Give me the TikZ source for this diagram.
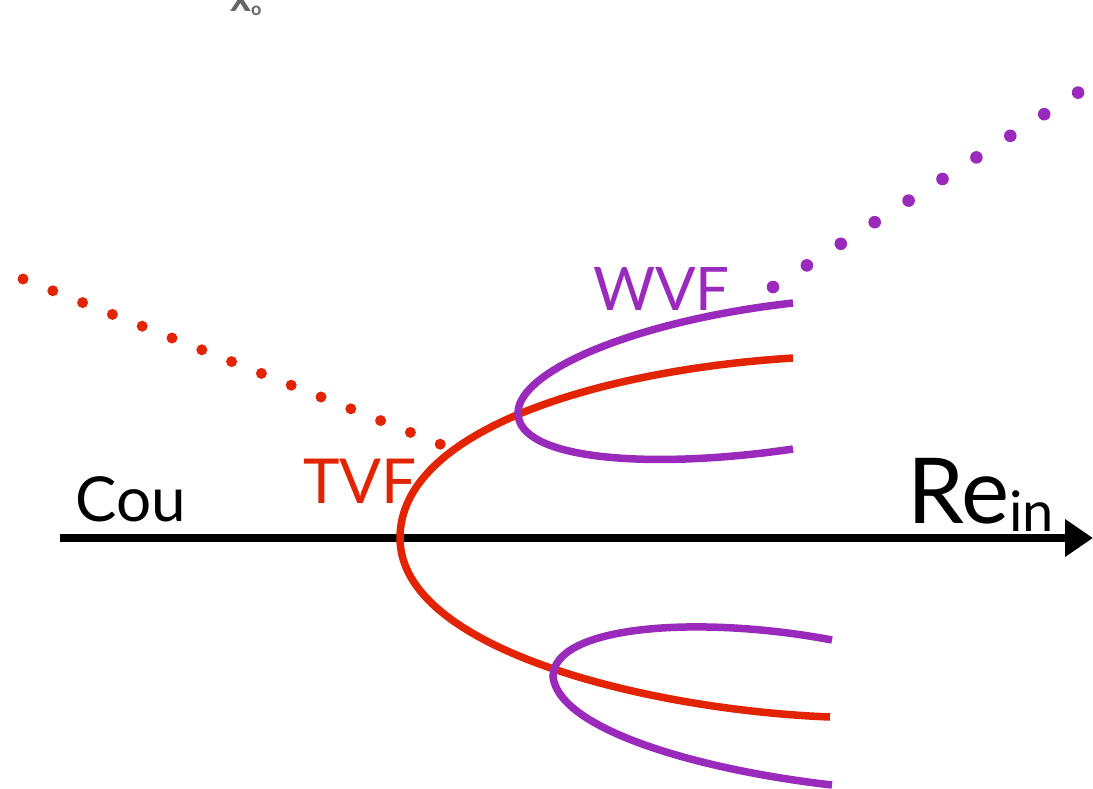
\documentclass[tikz,border=0pt]{standalone}
\usepackage{fontspec}
\setmainfont{Lato}
\usetikzlibrary{arrows.meta}
\definecolor{cred}{RGB}{226,36,4}
\definecolor{cpur}{RGB}{154,42,188}
\tikzset{
  curve/.style={line width=7.5pt},
  dotr/.style={fill=cred,draw=none},
  dotp/.style={fill=cpur,draw=none},
  lbl/.style={inner sep=0pt,anchor=base west,font=\fontsize{62}{62}\selectfont}
}
\begin{document}
\begin{tikzpicture}[x=1pt,y=-1pt]
\useasboundingbox (0,0) rectangle (1093,789);
% top fragment
\node[inner sep=0pt,anchor=base west,text=gray!80!black,font=\fontsize{40}{40}\selectfont\bfseries] (frag) at (230,12) {x\raisebox{-4pt}{\fontsize{18}{18}\selectfont o}};
% axis
\coordinate (ax0) at (60,538);
\coordinate (ax1) at (1093,538);
\draw[line width=7.5pt,-{Triangle[length=28pt,width=36pt]}] (ax0) -- (ax1);
% red dotted line
\foreach \i in {0,...,14} {
  \fill[dotr] ({23+\i*29.8},{279+\i*11.8}) circle (5.5);
}
% purple dotted line
\foreach \i in {0,...,9} {
  \fill[dotp] ({773+\i*33.9},{287-\i*21.6}) circle (6.3);
}
% red curve
\draw[curve,cred] (793,358) .. controls (600,370) and (400,430) .. (400,538)
   .. controls (400,650) and (650,710) .. (830,717);
% purple upper
\draw[curve,cpur] (793,303) .. controls (640,320) and (518,370) .. (518,413)
   .. controls (518,460) and (650,470) .. (793,449);
% purple lower
\draw[curve,cpur] (832,640) .. controls (700,615) and (553,625) .. (553,677)
   .. controls (560,730) and (700,770) .. (832,785);
% labels
\node[lbl] (cou) at (75,521) {Cou};
\node[lbl,text=cred] (tvf) at (303,503) {TVF};
\node[lbl,text=cpur,font=\fontsize{60}{60}\selectfont] (wvf) at (593,310) {WVF};
\node[lbl,font=\fontsize{91}{91}\selectfont] (re) at (907,523) {Re\raisebox{-8pt}{\fontsize{56}{56}\selectfont in}};
\end{tikzpicture}
\end{document}
